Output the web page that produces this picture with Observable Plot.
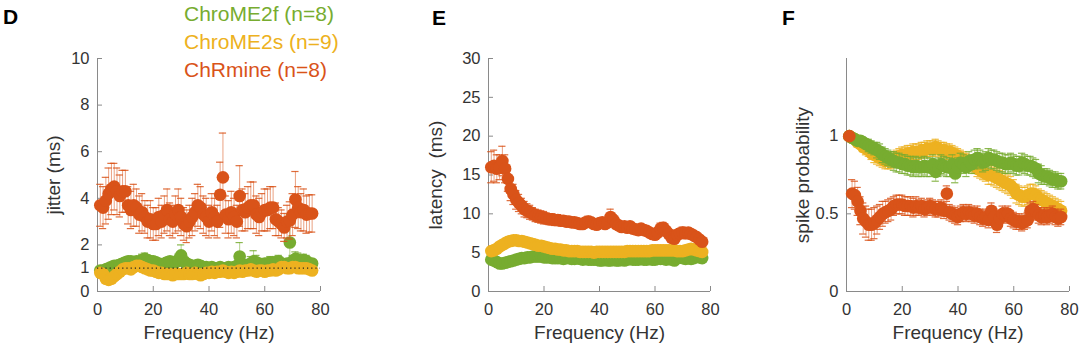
<!DOCTYPE html>
<html><head><meta charset="utf-8">
<script src="https://cdn.jsdelivr.net/npm/d3@7"></script>
<script src="https://cdn.jsdelivr.net/npm/@observablehq/plot@0.6"></script>
<style>
body{margin:0;background:#fff;}
#wrap{position:relative;width:1080px;height:356px;overflow:hidden;font-family:"Liberation Sans",Arial,Helvetica,sans-serif;}
.panel{position:absolute;top:0;}
#overlay{position:absolute;left:0;top:0;}
</style></head><body>
<div id="wrap"></div>
<script>
// ---------- data ----------
const freq = [1,2,3,4,5,6,7,8,9,10,11,12,13,14,15,16,17,18,19,20,21,22,23,24,25,26,27,28,29,30,31,32,33,34,35,36,37,38,39,40,41,42,43,44,45,46,47,48,49,50,51,52,53,54,55,56,57,58,59,60,61,62,63,64,65,66,67,68,69,70,71,72,73,74,75,76,77];
const xTicks = [0,20,40,60,80];
const seriesNames = ["ChroME2f (n=8)","ChroME2s (n=9)","ChRmine (n=8)"];
const seriesColors = ["#77AC30","#EDB120","#D95319"];
const panelLetters = ["D","E","F"];

// Panel D: jitter (ms)
const jitterTicks = [0,1,2,4,6,8,10];
const jitterChRmine = [3.7,3.6,3.9,4.2,4.4,4.5,4.3,4.1,4.3,4.3, 3.7,3.5,3.7,3.6,3.3,3.4,3.2,3.0,3.1,2.9, 2.9,3.2,3.0,3.3,3.5,3.1,3.0,3.3,3.5,3.2, 2.9,2.8,3.0,3.2,3.4,3.7,3.6,3.3,3.2,3.0, 3.4,3.2,3.0,4.15,4.9,3.3,3.1,3.4,3.2,3.0, 4.1,3.5,3.4,3.6,3.7,3.7,3.3,3.2,3.4,3.5, 3.5,3.6,3.6,3.1,3.0,2.9,2.75,3.0,3.05,3.3, 3.95,3.6,3.4,3.5,3.3,3.35,3.35];
const jitterChRmineErr = [0.9,0.9,1.0,1.1,1.1,1.0,1.0,0.9,0.9,0.9, 0.8,0.8,0.9,0.8,0.8,0.8,0.7,0.7,0.8,0.7, 0.7,0.8,0.7,0.8,0.9,0.7,0.7,0.8,0.9,0.8, 0.7,0.7,0.7,0.8,0.8,0.9,0.9,0.8,0.8,0.7, 0.8,0.8,0.7,1.4,1.9,0.8,0.8,0.9,0.8,0.7, 1.3,0.9,0.8,0.9,1.0,1.0,0.8,0.8,0.8,0.9, 0.9,0.9,0.9,0.7,0.6,0.6,0.6,0.7,0.8,0.9, 1.2,0.9,0.8,0.9,0.8,0.8,0.8];
const jitterChroME2f = [0.9,0.9,0.95,1.0,1.05,1.1,1.1,1.15,1.2,1.25, 1.3,1.3,1.25,1.3,1.25,1.35,1.4,1.35,1.3,1.3, 1.25,1.2,1.15,1.2,1.25,1.3,1.2,1.25,1.35,1.55, 1.3,1.2,1.15,1.1,1.1,1.15,1.1,1.05,1.05,1.0, 1.05,1.0,1.0,1.05,1.0,1.0,1.05,1.0,1.05,1.1, 1.5,1.15,1.1,1.15,1.2,1.3,1.25,1.2,1.15,1.2, 1.2,1.25,1.2,1.25,1.3,1.2,1.15,1.2,2.1,1.3, 1.4,1.35,1.3,1.35,1.3,1.2,1.2];
const jitterChroME2fErr = [0.15,0.15,0.15,0.2,0.2,0.2,0.2,0.2,0.2,0.2, 0.2,0.2,0.2,0.2,0.2,0.25,0.25,0.2,0.2,0.2, 0.2,0.2,0.2,0.2,0.2,0.2,0.2,0.2,0.25,0.45, 0.2,0.2,0.15,0.15,0.15,0.15,0.15,0.15,0.15,0.15, 0.15,0.15,0.15,0.15,0.15,0.15,0.15,0.15,0.15,0.15, 0.6,0.2,0.2,0.2,0.3,0.45,0.3,0.2,0.2,0.2, 0.2,0.25,0.25,0.25,0.25,0.2,0.2,0.2,1.2,0.25, 0.3,0.3,0.25,0.25,0.25,0.2,0.2];
const jitterChroME2s = [0.8,0.75,0.55,0.5,0.55,0.65,0.75,0.85,0.95,1.0, 1.0,0.95,1.05,1.1,1.1,1.05,1.0,0.95,0.9,0.9, 0.85,0.8,0.8,0.75,0.75,0.75,0.7,0.75,0.75,0.75, 0.75,0.8,0.75,0.75,0.8,0.75,0.7,0.75,0.8,0.8, 0.85,0.8,0.85,0.85,0.9,0.85,0.8,0.85,0.8,0.85, 0.9,0.85,0.9,0.9,0.95,0.9,0.85,0.9,0.9,0.85, 0.9,0.9,0.95,0.9,0.95,1.05,1.05,1.0,1.0,1.05, 1.05,1.0,1.0,1.0,1.0,0.95,0.9];
const jitterChroME2sErr = [0.12,0.12,0.1,0.1,0.1,0.1,0.1,0.1,0.1,0.1, 0.1,0.1,0.1,0.12,0.12,0.1,0.1,0.1,0.1,0.08, 0.08,0.08,0.08,0.08,0.08,0.08,0.08,0.08,0.08,0.08, 0.08,0.08,0.08,0.08,0.08,0.08,0.08,0.08,0.08,0.08, 0.08,0.08,0.08,0.08,0.1,0.08,0.08,0.08,0.08,0.08, 0.1,0.08,0.08,0.08,0.1,0.08,0.08,0.08,0.08,0.08, 0.08,0.08,0.1,0.08,0.1,0.12,0.12,0.1,0.1,0.1, 0.1,0.1,0.1,0.1,0.1,0.1,0.1];

// Panel E: latency (ms)
const latencyTicks = [0,5,10,15,20,25,30];
const latencyChRmine = [16.0,16.2,15.8,16.0,16.8,15.8,14.5,13.2,12.5,11.8, 11.4,11.0,10.6,10.4,10.2,10.0,9.8,9.7,9.6,9.5, 9.4,9.3,9.3,9.2,9.2,9.1,9.1,9.0,9.0,8.9, 8.9,8.8,8.7,8.7,8.9,9.0,8.9,8.7,8.6,8.8, 8.9,8.7,8.9,9.6,9.2,8.7,8.5,8.3,8.4,8.2, 8.4,8.1,8.0,7.9,8.1,7.9,7.8,7.6,7.4,7.3, 7.6,8.1,8.2,7.8,7.4,6.9,6.8,7.3,7.5,7.6, 7.5,7.6,7.4,7.2,7.0,6.7,6.4];
const latencyChRmineErr = [2.0,2.0,1.8,1.6,1.9,1.8,1.6,1.5,1.3,1.2, 1.1,1.0,1.0,0.9,0.9,0.8,0.8,0.8,0.8,0.8, 0.7,0.7,0.7,0.7,0.7,0.6,0.6,0.6,0.6,0.6, 0.6,0.6,0.6,0.6,0.6,0.7,0.6,0.6,0.6,0.6, 0.6,0.6,0.6,1.0,0.7,0.6,0.6,0.6,0.6,0.5, 0.6,0.5,0.5,0.5,0.5,0.5,0.5,0.5,0.5,0.5, 0.6,0.7,0.7,0.6,0.5,0.5,0.5,0.6,0.6,0.7, 0.7,0.6,0.6,0.5,0.5,0.5,0.5];
const latencyChroME2f = [4.1,4.0,3.8,3.6,3.6,3.7,3.8,3.9,4.0,4.1, 4.2,4.3,4.3,4.4,4.4,4.5,4.5,4.5,4.5,4.4, 4.4,4.4,4.3,4.3,4.3,4.3,4.2,4.3,4.3,4.2, 4.2,4.3,4.2,4.1,4.2,4.1,4.1,4.1,4.1,4.0, 4.0,4.1,4.0,4.0,4.1,4.0,4.0,4.1,4.0,4.1, 4.2,4.1,4.1,4.1,4.2,4.1,4.1,4.2,4.1,4.1, 4.2,4.2,4.2,4.1,4.2,4.1,4.0,4.3,4.4,4.3, 4.2,4.3,4.2,4.3,4.5,4.4,4.3];
const latencyChroME2fErr = [0.2,0.2,0.2,0.2,0.2,0.2,0.2,0.2,0.2,0.2, 0.2,0.2,0.2,0.2,0.2,0.2,0.2,0.2,0.2,0.2, 0.15,0.15,0.15,0.15,0.15,0.15,0.15,0.15,0.15,0.15, 0.15,0.15,0.15,0.15,0.15,0.15,0.15,0.15,0.15,0.15, 0.15,0.15,0.15,0.15,0.15,0.15,0.15,0.15,0.15,0.15, 0.15,0.15,0.15,0.15,0.15,0.15,0.15,0.15,0.15,0.15, 0.15,0.15,0.15,0.15,0.15,0.15,0.15,0.2,0.2,0.2, 0.2,0.2,0.2,0.2,0.2,0.2,0.2];
const latencyChroME2s = [5.2,5.3,5.5,5.8,6.0,6.2,6.4,6.5,6.6,6.6, 6.5,6.5,6.4,6.3,6.2,6.1,6.0,5.9,5.9,5.8, 5.7,5.6,5.5,5.5,5.4,5.4,5.3,5.3,5.2,5.2, 5.2,5.2,5.1,5.1,5.1,5.1,5.1,5.0,5.1,5.1, 5.1,5.1,5.1,5.1,5.1,5.1,5.1,5.1,5.1,5.2, 5.2,5.2,5.2,5.2,5.2,5.2,5.2,5.2,5.3,5.3, 5.3,5.3,5.3,5.3,5.3,5.3,5.3,5.2,5.2,5.2, 5.3,5.4,5.5,5.4,5.3,5.2,5.1];
const latencyChroME2sErr = [0.2,0.2,0.2,0.2,0.2,0.25,0.25,0.25,0.25,0.25, 0.25,0.25,0.2,0.2,0.2,0.2,0.2,0.2,0.2,0.2, 0.15,0.15,0.15,0.15,0.15,0.15,0.15,0.15,0.15,0.15, 0.15,0.15,0.15,0.15,0.15,0.15,0.15,0.15,0.15,0.15, 0.15,0.15,0.15,0.15,0.15,0.15,0.15,0.15,0.15,0.15, 0.15,0.15,0.15,0.15,0.15,0.15,0.15,0.15,0.15,0.15, 0.15,0.15,0.15,0.15,0.15,0.15,0.15,0.15,0.15,0.15, 0.2,0.2,0.2,0.2,0.2,0.2,0.2];

// Panel F: spike probability
const probTicks = [0,0.5,1];
const probChRmine = [1.0,0.63,0.62,0.58,0.52,0.47,0.45,0.43,0.43,0.44, 0.46,0.48,0.50,0.51,0.52,0.53,0.55,0.56,0.56,0.56, 0.55,0.55,0.55,0.54,0.55,0.54,0.55,0.53,0.54,0.55, 0.54,0.53,0.53,0.54,0.52,0.63,0.51,0.50,0.49,0.48, 0.50,0.51,0.50,0.51,0.50,0.49,0.50,0.48,0.47,0.48, 0.46,0.52,0.48,0.43,0.47,0.50,0.49,0.50,0.47,0.46, 0.45,0.45,0.44,0.45,0.46,0.52,0.53,0.51,0.49,0.48, 0.49,0.48,0.49,0.50,0.48,0.47,0.48];
const probChRmineErr = [0,0.09,0.09,0.09,0.09,0.1,0.1,0.1,0.1,0.1, 0.09,0.08,0.08,0.07,0.07,0.07,0.06,0.06,0.06,0.06, 0.06,0.06,0.06,0.06,0.06,0.05,0.05,0.05,0.05,0.05, 0.05,0.05,0.05,0.05,0.05,0.05,0.05,0.05,0.05,0.05, 0.05,0.05,0.05,0.05,0.05,0.05,0.05,0.05,0.05,0.05, 0.05,0.05,0.05,0.05,0.05,0.05,0.05,0.05,0.05,0.05, 0.05,0.05,0.05,0.05,0.05,0.05,0.05,0.05,0.05,0.05, 0.05,0.05,0.05,0.05,0.05,0.05,0.05];
const probChroME2f = [1.0,0.99,0.98,0.97,0.97,0.96,0.95,0.94,0.93,0.92, 0.91,0.90,0.88,0.87,0.86,0.85,0.84,0.83,0.83,0.82, 0.82,0.81,0.81,0.80,0.81,0.80,0.80,0.81,0.80,0.80, 0.82,0.77,0.80,0.82,0.81,0.80,0.80,0.82,0.76,0.80, 0.83,0.82,0.80,0.84,0.82,0.85,0.86,0.85,0.83,0.84, 0.86,0.85,0.85,0.84,0.83,0.83,0.82,0.82,0.83,0.82, 0.81,0.81,0.83,0.82,0.81,0.81,0.80,0.79,0.76,0.75, 0.74,0.74,0.73,0.72,0.72,0.71,0.71];
const probChroME2fErr = [0.01,0.02,0.02,0.02,0.03,0.03,0.03,0.04,0.04,0.04, 0.05,0.05,0.05,0.05,0.05,0.05,0.06,0.06,0.06,0.06, 0.06,0.06,0.06,0.06,0.06,0.06,0.06,0.06,0.06,0.06, 0.06,0.06,0.06,0.06,0.06,0.06,0.06,0.06,0.06,0.06, 0.06,0.06,0.06,0.06,0.06,0.06,0.06,0.06,0.06,0.06, 0.06,0.06,0.06,0.06,0.06,0.06,0.06,0.06,0.06,0.06, 0.06,0.06,0.06,0.06,0.06,0.06,0.06,0.06,0.06,0.06, 0.05,0.05,0.05,0.05,0.05,0.05,0.05];
const probChroME2s = [1.0,0.99,0.98,0.96,0.95,0.93,0.92,0.91,0.89,0.88, 0.87,0.86,0.85,0.84,0.84,0.84,0.85,0.86,0.87,0.88, 0.88,0.89,0.89,0.90,0.90,0.90,0.91,0.91,0.92,0.92, 0.92,0.93,0.92,0.91,0.91,0.90,0.90,0.89,0.88,0.87, 0.86,0.85,0.84,0.83,0.82,0.81,0.79,0.78,0.77,0.76, 0.75,0.75,0.74,0.73,0.72,0.71,0.70,0.69,0.68,0.66, 0.63,0.62,0.61,0.61,0.62,0.63,0.63,0.62,0.60,0.59, 0.58,0.57,0.56,0.55,0.54,0.53,0.52];
const probChroME2sErr = [0.01,0.02,0.02,0.03,0.03,0.03,0.04,0.04,0.04,0.05, 0.05,0.05,0.05,0.05,0.05,0.05,0.05,0.05,0.05,0.05, 0.05,0.05,0.05,0.05,0.05,0.05,0.05,0.05,0.05,0.05, 0.05,0.05,0.05,0.05,0.05,0.05,0.05,0.05,0.05,0.05, 0.05,0.05,0.05,0.05,0.05,0.05,0.05,0.05,0.05,0.05, 0.06,0.06,0.06,0.06,0.06,0.06,0.06,0.06,0.06,0.06, 0.06,0.06,0.06,0.06,0.06,0.06,0.06,0.06,0.06,0.06, 0.06,0.06,0.06,0.06,0.06,0.06,0.06];

// ---------- drawing ----------
const AX = "#8a8a8a", TXT = "#333333";
const FONT = '"Liberation Sans", Arial, Helvetica, sans-serif';
const rows = (v, e) => freq.map((f, i) => ({f, v: v[i], e: e[i]}));

function seriesMarks(v, e, color) {
  const data = rows(v, e).filter(d => d.v != null);
  return [
    Plot.ruleX(data, {x: "f", y1: d => d.v - d.e, y2: d => d.v + d.e, stroke: color, strokeOpacity: 0.55, strokeWidth: 1}),
    Plot.ruleY(data, {y: d => d.v + d.e, x1: d => d.f - 1.3, x2: d => d.f + 1.3, stroke: color, strokeOpacity: 0.85, strokeWidth: 1.2}),
    Plot.ruleY(data, {y: d => d.v - d.e, x1: d => d.f - 1.3, x2: d => d.f + 1.3, stroke: color, strokeOpacity: 0.85, strokeWidth: 1.2}),
    Plot.dot(data, {x: "f", y: "v", r: 6.3, fill: color, stroke: "none"})
  ];
}

function makePanel(cfg) {
  const W = 360, H = 356;
  const fw = W - cfg.ml - cfg.mr, fh = H - 58 - 65;
  const marks = [
    Plot.ruleX([0], {stroke: AX}),
    Plot.ruleY([0], {stroke: AX}),
    Plot.tickX(xTicks, {x: d => d, stroke: AX, insetTop: fh - 5}),
    Plot.tickY(cfg.yTicks, {y: d => d, stroke: AX, insetRight: fw - 5}),
    Plot.axisX({ticks: xTicks, tickSize: 0, tickPadding: 12, fontSize: 16.5, color: TXT, label: null, tickFormat: d => String(d)}),
    Plot.axisY({ticks: cfg.yTicks, tickSize: 0, tickPadding: 8, fontSize: 16.5, color: TXT, label: null, tickFormat: d => String(d)}),
    Plot.text(["Frequency (Hz)"], {frameAnchor: "bottom", dy: 41, fontSize: 19, fill: TXT, lineAnchor: "middle", textAnchor: "middle"}),
    Plot.text([cfg.yLabel], {frameAnchor: "left", rotate: -90, dx: cfg.ylabDx, fontSize: 19, fill: TXT, lineAnchor: "middle", textAnchor: "middle"}),
    ...cfg.series
  ];
  const svg = Plot.plot({
    width: W, height: H,
    marginLeft: cfg.ml, marginRight: cfg.mr, marginTop: 58, marginBottom: 65,
    x: {domain: [0, 80]},
    y: {domain: cfg.yDomain},
    style: {fontFamily: FONT, background: "transparent", overflow: "visible"},
    marks
  });
  const div = document.createElement("div");
  div.className = "panel";
  div.style.left = cfg.left + "px";
  div.appendChild(svg);
  document.getElementById("wrap").appendChild(div);
}

makePanel({
  left: 0, ml: 97, mr: 40, yDomain: [0, 10], yTicks: jitterTicks, yLabel: "jitter (ms)", ylabDx: -44,
  series: [
    ...seriesMarks(jitterChroME2f, jitterChroME2fErr, seriesColors[0]),
    ...seriesMarks(jitterChroME2s, jitterChroME2sErr, seriesColors[1]),
    Plot.ruleY([1], {stroke: "#222", strokeDasharray: "1.2,3", strokeWidth: 1.2}),
    ...seriesMarks(jitterChRmine, jitterChRmineErr, seriesColors[2])
  ]
});
makePanel({
  left: 360, ml: 128, mr: 10, yDomain: [0, 30], yTicks: latencyTicks, yLabel: "latency  (ms)", ylabDx: -53,
  series: [
    ...seriesMarks(latencyChroME2f, latencyChroME2fErr, seriesColors[0]),
    ...seriesMarks(latencyChroME2s, latencyChroME2sErr, seriesColors[1]),
    ...seriesMarks(latencyChRmine, latencyChRmineErr, seriesColors[2])
  ]
});
makePanel({
  left: 720, ml: 126, mr: 11, yDomain: [0, 1.5], yTicks: probTicks, yLabel: "spike probability", ylabDx: -44,
  series: [
    ...seriesMarks(probChroME2s, probChroME2sErr, seriesColors[1]),
    ...seriesMarks(probChroME2f, probChroME2fErr, seriesColors[0]),
    ...seriesMarks(probChRmine, probChRmineErr, seriesColors[2])
  ]
});

// overlay: panel letters and legend
const ov = d3.select("#wrap").append("svg").attr("id", "overlay").attr("width", 1080).attr("height", 356)
  .style("font-family", FONT);
const letterPos = [[3, 24], [432, 25], [782, 25]];
panelLetters.forEach((t, i) => {
  ov.append("text").attr("x", letterPos[i][0]).attr("y", letterPos[i][1])
    .attr("font-size", 21).attr("font-weight", "bold").attr("fill", "#000").text(t);
});
seriesNames.forEach((t, i) => {
  ov.append("text").attr("x", 184).attr("y", 21 + i * 28)
    .attr("font-size", 21).attr("fill", seriesColors[i]).text(t);
});
</script>
</body></html>
